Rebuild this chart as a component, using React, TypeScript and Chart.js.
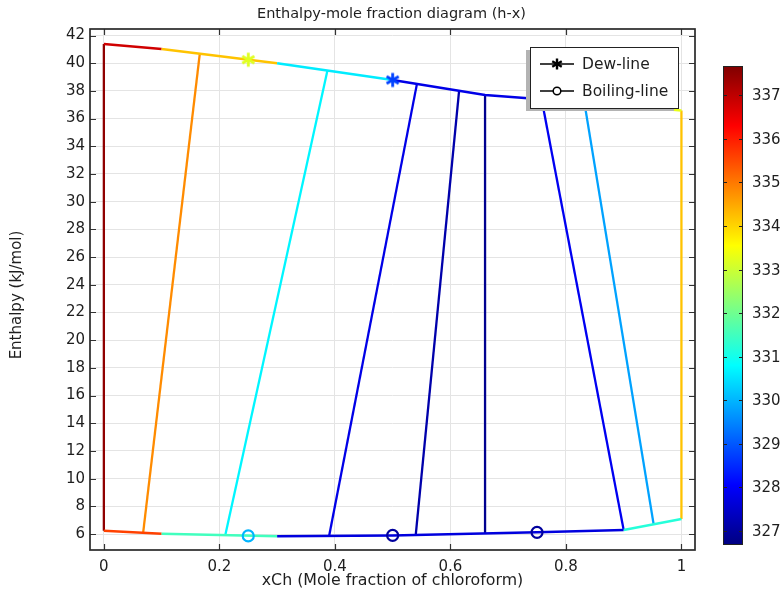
import React, { useEffect, useRef } from 'react';
import { Chart, registerables } from 'chart.js';

Chart.register(...registerables);

const TITLE = 'Enthalpy-mole fraction diagram (h-x)';
const X_TITLE = 'xCh (Mole fraction of chloroform)';
const Y_TITLE = 'Enthalpy (kJ/mol)';
const LEGEND_LABELS = ['Dew-line', 'Boiling-line'];

const xTicks = [0, 0.2, 0.4, 0.6, 0.8, 1];
const xTickLabels = ['0', '0.2', '0.4', '0.6', '0.8', '1'];
const yTicks = [6, 8, 10, 12, 14, 16, 18, 20, 22, 24, 26, 28, 30, 32, 34, 36, 38, 40, 42];
const cbTicks = [327, 328, 329, 330, 331, 332, 333, 334, 335, 336, 337];
const cbMin = 326.68;
const cbMax = 337.67;

// Dew line (vapour) nodes, enthalpy, and temperature of each segment
const dewX = [0, 0.1, 0.3, 0.5, 0.66, 0.9, 1.0];
const dewH = [41.39, 41.03, 39.99, 38.79, 37.7, 36.95, 36.58];
const dewSegT = [336.8, 334.2, 330.6, 327.8, 327.8, 333.3];

// Boiling line (liquid) nodes
const boilX = [0, 0.1, 0.3, 0.5, 0.75, 0.9, 1.0];
const boilH = [6.24, 6.02, 5.83, 5.9, 6.12, 6.29, 7.08];
const boilSegT = [335.6, 331.5, 327.7, 327.7, 327.7, 331.2];

// Tie lines: liquid end -> vapour end, with temperature
const tieXLiq = [0, 0.068, 0.21, 0.39, 0.54, 0.66, 0.9, 0.952, 1.0];
const tieHLiq = [6.24, 6.09, 5.88, 5.86, 5.94, 6.04, 6.29, 6.68, 7.08];
const tieXVap = [0, 0.166, 0.387, 0.542, 0.615, 0.66, 0.758, 0.832, 1.0];
const tieHVap = [41.39, 40.66, 39.45, 38.49, 37.99, 37.7, 37.38, 37.15, 36.58];
const tieT = [337.5, 334.8, 330.7, 327.8, 327.15, 326.85, 327.9, 329.8, 334.2];

// Markers
const dewMarkX = [0.25, 0.5, 0.75];
const dewMarkH = [40.25, 38.79, 37.42];
const dewMarkT = [333.2, 328.75, 328.0];
const boilMarkX = [0.25, 0.5, 0.75];
const boilMarkH = [5.86, 5.9, 6.12];
const boilMarkT = [330.0, 327.0, 327.0];

const FONT = "'DejaVu Sans', sans-serif";
const TEXT = '#1e1e1e';

function jetRGB(T: number): [number, number, number] {
  const t = Math.max(0, Math.min(1, (T - cbMin) / (cbMax - cbMin)));
  const f = (v: number) => Math.round(255 * Math.max(0, Math.min(1, v)));
  return [f(1.5 - Math.abs(4 * t - 3)), f(1.5 - Math.abs(4 * t - 2)), f(1.5 - Math.abs(4 * t - 1))];
}
function jet(T: number): string {
  const [r, g, b] = jetRGB(T);
  return `rgb(${r},${g},${b})`;
}

function drawAsterisk(g: CanvasRenderingContext2D, cx: number, cy: number, r: number, lw: number, color: string) {
  g.save();
  g.strokeStyle = color;
  g.lineWidth = lw;
  g.lineCap = 'butt';
  for (let k = 0; k < 3; k++) {
    const a = Math.PI / 2 + (k * Math.PI) / 3;
    g.beginPath();
    g.moveTo(cx + r * Math.cos(a), cy + r * Math.sin(a));
    g.lineTo(cx - r * Math.cos(a), cy - r * Math.sin(a));
    g.stroke();
  }
  g.restore();
}

function makeAsterisk(color: string, r: number, lw: number): HTMLCanvasElement {
  const s = Math.ceil(2 * r + lw + 2);
  const c = document.createElement('canvas');
  c.width = s;
  c.height = s;
  const g = c.getContext('2d')!;
  drawAsterisk(g, s / 2, s / 2, r, lw, color);
  return c;
}

const decorPlugin = {
  id: 'decor',
  afterDatasetsDraw(chart: any) {
    const { ctx, chartArea: a, scales } = chart;
    const xs = scales.x;
    const ys = scales.y;
    ctx.save();
    // inner ticks
    ctx.strokeStyle = '#333';
    ctx.lineWidth = 1.2;
    const tl = 6;
    xTicks.forEach((v) => {
      const px = Math.round(xs.getPixelForValue(v)) + 0.5;
      ctx.beginPath();
      ctx.moveTo(px, a.bottom);
      ctx.lineTo(px, a.bottom - tl);
      ctx.moveTo(px, a.top);
      ctx.lineTo(px, a.top + tl);
      ctx.stroke();
    });
    yTicks.forEach((v) => {
      const py = Math.round(ys.getPixelForValue(v)) + 0.5;
      ctx.beginPath();
      ctx.moveTo(a.left, py);
      ctx.lineTo(a.left + tl, py);
      ctx.moveTo(a.right, py);
      ctx.lineTo(a.right - tl, py);
      ctx.stroke();
    });
    // frame
    ctx.strokeStyle = '#2a2a2a';
    ctx.lineWidth = 1.7;
    ctx.strokeRect(a.left, a.top, a.right - a.left, a.bottom - a.top);

    // legend
    const lx = a.right - 165;
    const ly = a.top + 18;
    const lw = 148;
    const lh = 61;
    ctx.fillStyle = '#b3b3b3';
    ctx.fillRect(lx - 4, ly + 3, lw, lh);
    ctx.fillStyle = '#ffffff';
    ctx.fillRect(lx, ly, lw, lh);
    ctx.strokeStyle = '#222';
    ctx.lineWidth = 1;
    ctx.strokeRect(lx + 0.5, ly + 0.5, lw, lh);
    const rows = [ly + 17, ly + 44];
    ctx.strokeStyle = '#000';
    ctx.lineWidth = 1.6;
    rows.forEach((ry) => {
      ctx.beginPath();
      ctx.moveTo(lx + 10, ry);
      ctx.lineTo(lx + 44, ry);
      ctx.stroke();
    });
    drawAsterisk(ctx, lx + 27, rows[0], 5.5, 2.4, '#000');
    ctx.beginPath();
    ctx.arc(lx + 27, rows[1], 3.8, 0, Math.PI * 2);
    ctx.fillStyle = '#fff';
    ctx.fill();
    ctx.lineWidth = 1.5;
    ctx.stroke();
    ctx.fillStyle = TEXT;
    ctx.font = `15.5px ${FONT}`;
    ctx.textAlign = 'left';
    ctx.textBaseline = 'middle';
    ctx.fillText(LEGEND_LABELS[0], lx + 52, rows[0] + 1);
    ctx.fillText(LEGEND_LABELS[1], lx + 52, rows[1] + 1);
    ctx.restore();
  },
  afterDraw(chart: any) {
    const { ctx } = chart;
    // y-axis title
    ctx.save();
    ctx.fillStyle = TEXT;
    ctx.font = `15px ${FONT}`;
    ctx.textAlign = 'center';
    ctx.textBaseline = 'middle';
    ctx.translate(17, 295);
    ctx.rotate(-Math.PI / 2);
    ctx.fillText(Y_TITLE, 0, 0);
    ctx.restore();

    // colour bar
    const left = 723;
    const right = 743;
    const top = 66;
    const bottom = 545;
    const toY = (v: number) => bottom - ((v - cbMin) / (cbMax - cbMin)) * (bottom - top);
    ctx.save();
    const grad = ctx.createLinearGradient(0, bottom, 0, top);
    for (let i = 0; i <= 40; i++) {
      const v = cbMin + ((cbMax - cbMin) * i) / 40;
      grad.addColorStop(i / 40, jet(v));
    }
    ctx.fillStyle = grad;
    ctx.fillRect(left, top, right - left, bottom - top);
    ctx.strokeStyle = '#222';
    ctx.lineWidth = 1;
    ctx.strokeRect(left + 0.5, top + 0.5, right - left - 1, bottom - top - 1);
    ctx.lineWidth = 1.2;
    ctx.fillStyle = TEXT;
    ctx.font = `15px ${FONT}`;
    ctx.textAlign = 'left';
    ctx.textBaseline = 'middle';
    cbTicks.forEach((v) => {
      const y = Math.round(toY(v)) + 0.5;
      ctx.beginPath();
      ctx.moveTo(left, y);
      ctx.lineTo(left + 4, y);
      ctx.moveTo(right, y);
      ctx.lineTo(right - 4, y);
      ctx.stroke();
      ctx.fillText(String(v), 752, y + 1);
    });
    ctx.restore();
  },
};

export default function App() {
  const ref = useRef<HTMLCanvasElement>(null);
  useEffect(() => {
    document.body.style.margin = '0';
    Chart.defaults.font.family = FONT;
    Chart.defaults.color = TEXT;

    const tieSets = tieXLiq.map((xl, i) => ({
      label: 'tie' + i,
      data: [
        { x: xl, y: tieHLiq[i] },
        { x: tieXVap[i], y: tieHVap[i] },
      ],
      showLine: true,
      borderColor: jet(tieT[i]),
      borderWidth: 2.3,
      pointRadius: 0,
      tension: 0,
    }));

    const datasets: any[] = [
      {
        label: 'Dew markers',
        data: dewMarkX.map((x, i) => ({ x, y: dewMarkH[i] })),
        showLine: false,
        pointStyle: dewMarkT.map((T) => makeAsterisk(jet(T), 7, 2.8)),
        pointRadius: 7,
      },
      {
        label: 'Boiling markers',
        data: boilMarkX.map((x, i) => ({ x, y: boilMarkH[i] })),
        showLine: false,
        pointStyle: 'circle',
        pointRadius: 5.5,
        pointBorderWidth: 2.2,
        pointBorderColor: boilMarkT.map((T) => jet(T)),
        pointBackgroundColor: 'rgba(0,0,0,0)',
      },
      {
        label: LEGEND_LABELS[0],
        data: dewX.map((x, i) => ({ x, y: dewH[i] })),
        showLine: true,
        borderWidth: 2.5,
        pointRadius: 0,
        tension: 0,
        borderColor: jet(dewSegT[0]),
        segment: { borderColor: (c: any) => jet(dewSegT[c.p0DataIndex]) },
      },
      {
        label: LEGEND_LABELS[1],
        data: boilX.map((x, i) => ({ x, y: boilH[i] })),
        showLine: true,
        borderWidth: 2.5,
        pointRadius: 0,
        tension: 0,
        borderColor: jet(boilSegT[0]),
        segment: { borderColor: (c: any) => jet(boilSegT[c.p0DataIndex]) },
      },
      ...tieSets,
    ];

    const chart = new Chart(ref.current!, {
      type: 'scatter',
      data: { datasets },
      plugins: [decorPlugin],
      options: {
        animation: false,
        responsive: true,
        maintainAspectRatio: false,
        layout: { padding: { left: 0, right: 0, top: 0, bottom: 0 } },
        plugins: {
          legend: { display: false },
          tooltip: { enabled: false },
          title: {
            display: true,
            text: TITLE,
            color: TEXT,
            font: { size: 14.5, weight: 'normal', family: FONT },
            padding: { top: 6, bottom: 5.6 },
          },
        },
        scales: {
          x: {
            type: 'linear',
            min: -0.024,
            max: 1.0235,
            afterFit: (s: any) => {
              s.height = 42;
            },
            afterBuildTicks: (s: any) => {
              s.ticks = xTicks.map((v) => ({ value: v }));
            },
            ticks: {
              padding: 8,
              font: { size: 15, family: FONT },
              color: TEXT,
              maxRotation: 0,
              callback: (_v: any, i: number) => xTickLabels[i],
            },
            grid: { color: '#e4e4e4', lineWidth: 1, drawTicks: false },
            border: { display: false },
            title: {
              display: true,
              text: X_TITLE,
              color: TEXT,
              font: { size: 15.8, family: FONT },
              padding: { top: 0, bottom: 2 },
            },
          },
          y: {
            type: 'linear',
            min: 4.845,
            max: 42.47,
            afterFit: (s: any) => {
              s.width = 90;
            },
            afterBuildTicks: (s: any) => {
              s.ticks = yTicks.map((v) => ({ value: v }));
            },
            ticks: {
              padding: 5,
              font: { size: 15, family: FONT },
              color: TEXT,
              callback: (v: any) => String(v),
            },
            grid: { color: '#e4e4e4', lineWidth: 1, drawTicks: false },
            border: { display: false },
          },
          yPad: {
            type: 'linear',
            position: 'right',
            display: true,
            afterFit: (s: any) => {
              s.width = 88;
            },
            ticks: { display: false },
            grid: { display: false, drawTicks: false },
            border: { display: false },
          },
        },
      },
    } as any);
    return () => chart.destroy();
  }, []);

  return (
    <div style={{ position: 'relative', width: 783, height: 592 }}>
      <canvas ref={ref} />
    </div>
  );
}
